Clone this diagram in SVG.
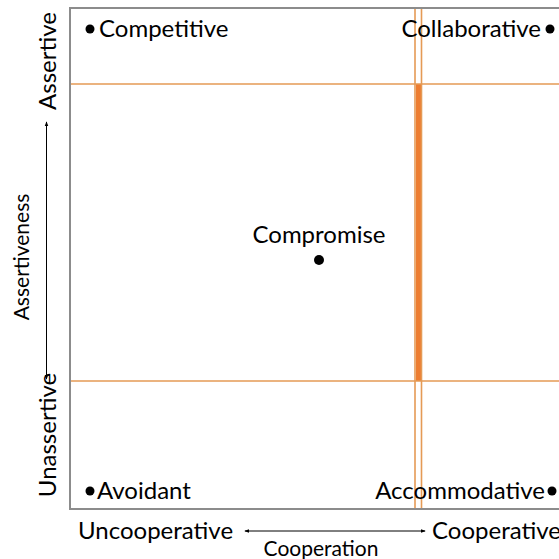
<svg xmlns="http://www.w3.org/2000/svg" width="559" height="559" viewBox="0 0 559 559">
<defs>
<style>
.t{font-family:Lato,"Liberation Sans",sans-serif;fill:#000;}
.big{font-size:24px;}
.small{font-size:21px;}
.grid{stroke:#E59A55;stroke-width:1.6;fill:none;}
.ax{stroke:#000;stroke-width:1;fill:none;}
</style>
<marker id="ah" viewBox="0 0 6 6" refX="5" refY="3" markerWidth="5" markerHeight="5" orient="auto-start-reverse" markerUnits="userSpaceOnUse">
<path d="M0,0.8 L6,3 L0,5.2 Z" fill="#000"/>
</marker>
</defs>
<rect width="559" height="559" fill="#fff"/>
<g id="frame">
<rect x="416" y="84" width="5" height="297" fill="#ED7D31"/>
<line class="grid" x1="70" y1="84" x2="559" y2="84"/>
<line class="grid" x1="70" y1="381" x2="559" y2="381"/>
<line class="grid" x1="415" y1="8" x2="415" y2="509"/>
<line class="grid" x1="421.5" y1="8" x2="421.5" y2="509"/>
<polyline points="600,8 70,8 70,509 600,509" fill="none" stroke="#8C8C8C" stroke-width="2"/>
</g>
<g id="connectors">
<line class="ax" x1="46.5" y1="122" x2="46.5" y2="379" marker-start="url(#ah)" marker-end="url(#ah)"/>
<line class="ax" x1="245" y1="531" x2="425" y2="531" marker-start="url(#ah)" marker-end="url(#ah)"/>
</g>
<g id="competitive">
<circle cx="90" cy="29" r="4.5"/>
<text class="t big" x="99" y="37">Competitive</text>
</g>
<g id="collaborative">
<circle cx="550" cy="29" r="4.5"/>
<text class="t big" x="541" y="37" text-anchor="end">Collaborative</text>
</g>
<g id="compromise">
<text class="t big" x="319" y="243" text-anchor="middle">Compromise</text>
<circle cx="319" cy="260" r="5"/>
</g>
<g id="avoidant">
<circle cx="90" cy="491" r="4.5"/>
<text class="t big" x="97" y="499">Avoidant</text>
</g>
<g id="accommodative">
<circle cx="552" cy="491" r="4.5"/>
<text class="t big" x="545" y="499" text-anchor="end">Accommodative</text>
</g>
<g id="axis-labels">
<text class="t big" x="78" y="539">Uncooperative</text>
<text class="t big" x="432" y="539">Cooperative</text>
<text class="t small" x="321" y="556" text-anchor="middle">Cooperation</text>
<text class="t big" transform="translate(56,61) rotate(-90)" text-anchor="middle">Assertive</text>
<text class="t big" transform="translate(56,435) rotate(-90)" text-anchor="middle">Unassertive</text>
<text class="t small" transform="translate(29,257) rotate(-90)" text-anchor="middle">Assertiveness</text>
</g>
</svg>
